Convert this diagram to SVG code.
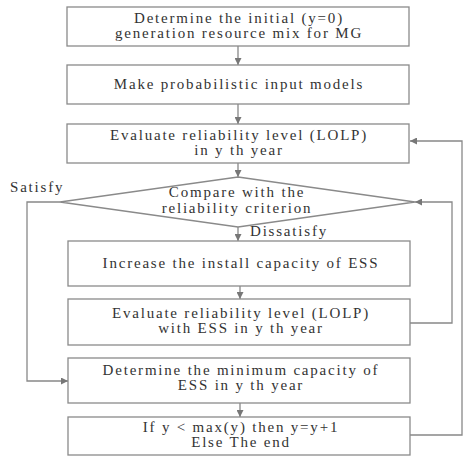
<svg xmlns="http://www.w3.org/2000/svg" width="465" height="457" viewBox="0 0 465 457">
<defs>
<marker id="ah" viewBox="0 0 10 10" refX="10" refY="5" markerWidth="7" markerHeight="7" markerUnits="userSpaceOnUse" orient="auto"><path d="M0,0 L10,5 L0,10 z" fill="#777"/></marker>
<style>
.box{fill:#fff;stroke:#8a8a8a;stroke-width:1.3}
.c{fill:none;stroke:#888;stroke-width:1.3;marker-end:url(#ah)}
</style>
</defs>
<rect width="465" height="457" fill="#fff"/>
<g id="connectors">
<path class="c" d="M238,46 V65"/>
<path class="c" d="M238,104 V124"/>
<path class="c" d="M238,163 V177"/>
<path class="c" d="M238,227 V241"/>
<path class="c" d="M240,286 V299"/>
<path class="c" d="M240,403 V417"/>
<path class="c" d="M60,202 H27 V381 H68"/>
<path class="c" d="M410,323 H452 V202 H415"/>
<path class="c" d="M410,435 H462 V141 H410"/>
</g>
<g font-family="Liberation Serif, serif" font-size="15" fill="#333" letter-spacing="1.8">
<g text-anchor="middle">
<g id="n1"><rect class="box" x="67" y="7" width="342" height="39"/><text x="239" y="23">Determine the initial (y=0)</text><text x="239" y="38">generation resource mix for MG</text></g>
<g id="n2"><rect class="box" x="67" y="65" width="342" height="39"/><text x="239" y="89">Make probabilistic input models</text></g>
<g id="n3"><rect class="box" x="67" y="124" width="342" height="39"/><text x="239" y="140">Evaluate reliability level (LOLP)</text><text x="239" y="155">in y th year</text></g>
<g id="n4"><path class="box" d="M238,177 L415,202 L238,227 L60,202 Z"/><text x="237" y="197">Compare with the</text><text x="237" y="213">reliability criterion</text></g>
<g id="n5"><rect class="box" x="68" y="241" width="342" height="45"/><text x="241" y="268">Increase the install capacity of ESS</text></g>
<g id="n6"><rect class="box" x="68" y="299" width="342" height="46"/><text x="241" y="318">Evaluate reliability level (LOLP)</text><text x="241" y="333">with ESS in y th year</text></g>
<g id="n7"><rect class="box" x="68" y="358" width="342" height="45"/><text x="241" y="375">Determine the minimum capacity of</text><text x="241" y="390">ESS in y th year</text></g>
<g id="n8"><rect class="box" x="68" y="417" width="342" height="38"/><text x="241" y="432">If y &lt; max(y) then y=y+1</text><text x="241" y="447">Else The end</text></g>
</g>
<g id="lbl"><text x="10" y="192">Satisfy</text><text x="250" y="236">Dissatisfy</text></g>
</g>
</svg>
